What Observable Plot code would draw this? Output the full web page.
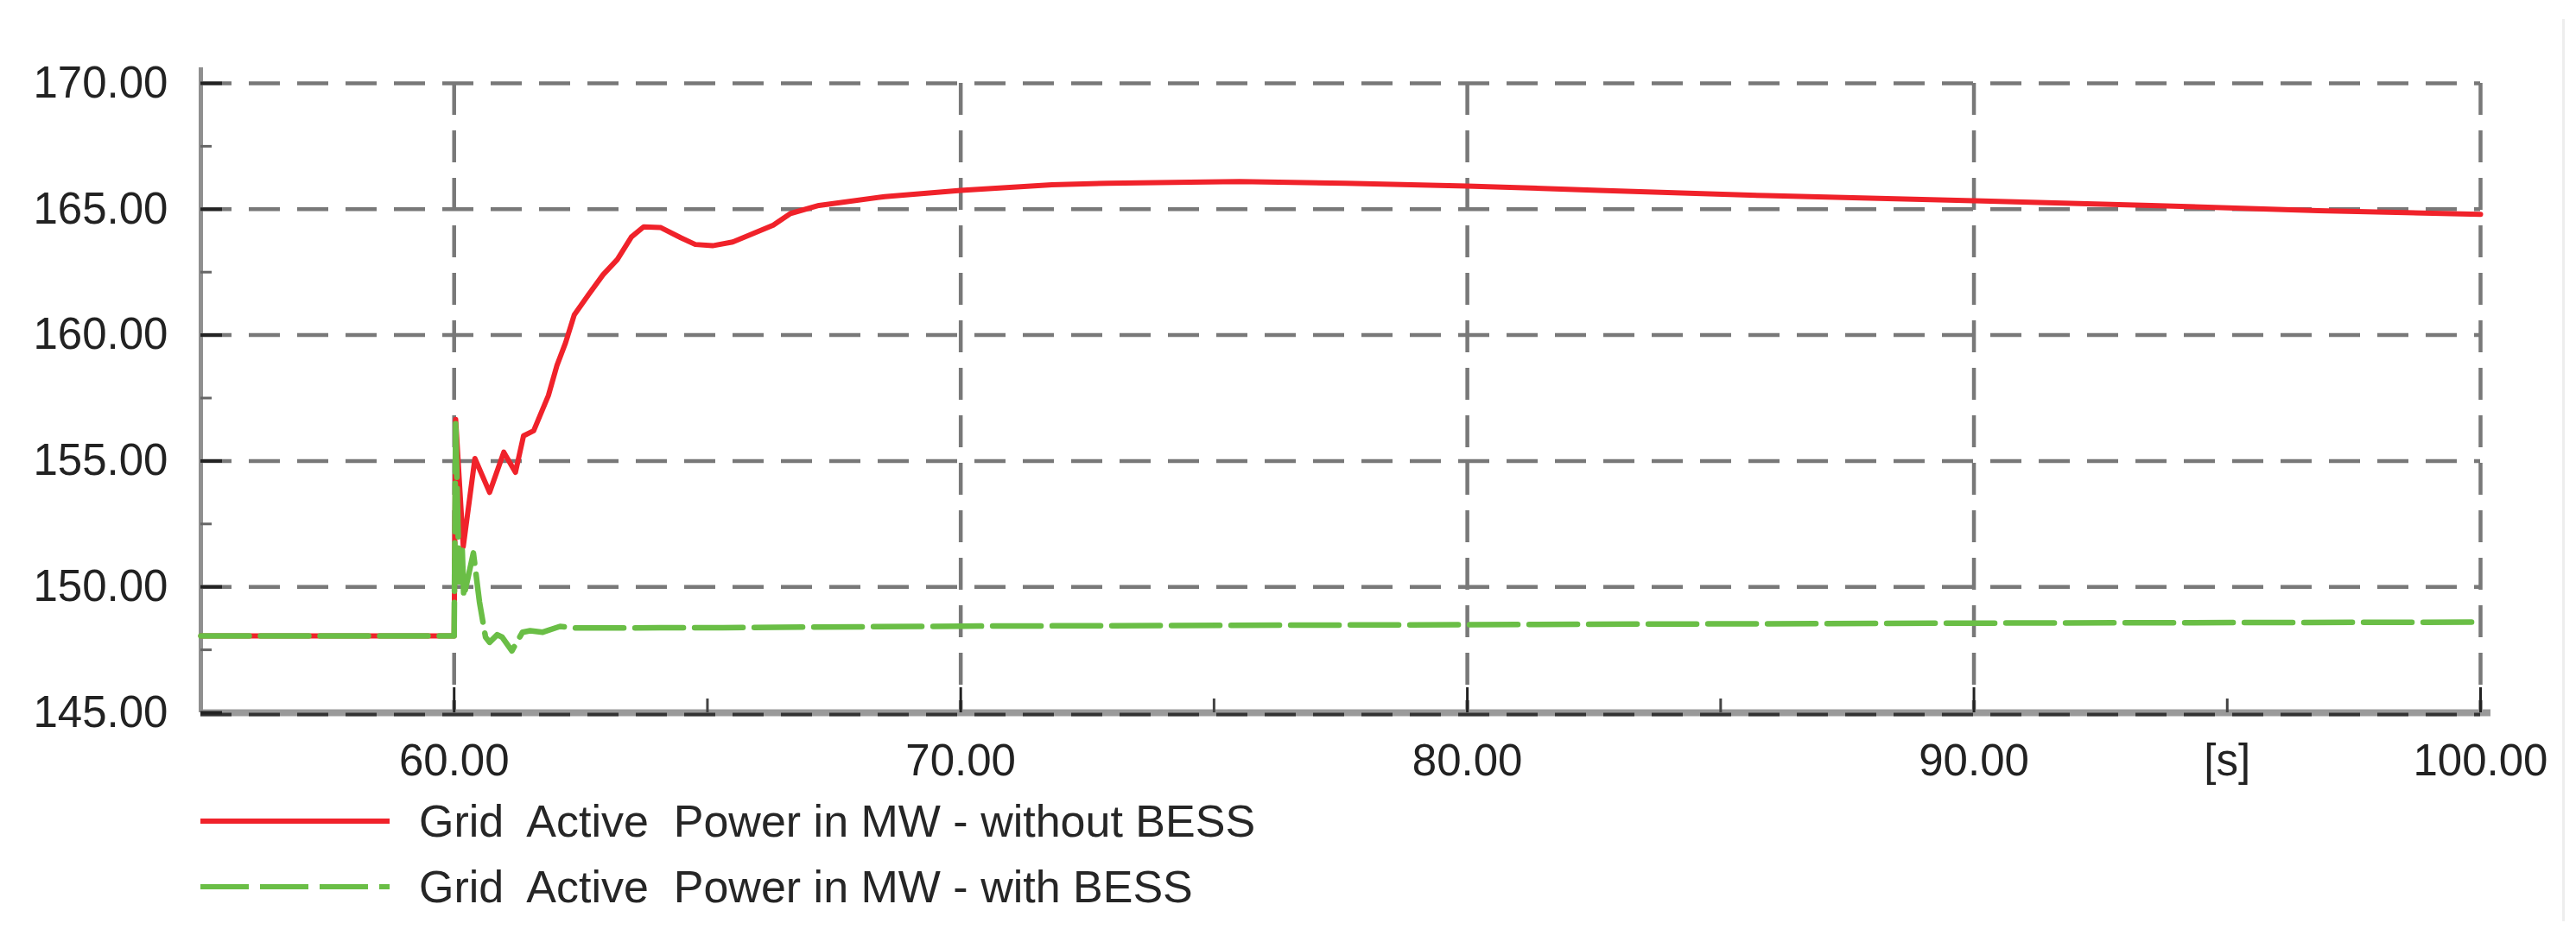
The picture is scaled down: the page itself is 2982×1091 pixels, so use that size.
<!DOCTYPE html>
<html>
<head>
<meta charset="utf-8">
<script src="https://cdn.jsdelivr.net/npm/d3@7"></script>
<script src="https://cdn.jsdelivr.net/npm/@observablehq/plot@0.6"></script>
<style>
  html, body { margin: 0; padding: 0; background: #fff; }
  #wrap { position: relative; width: 2982px; height: 1091px; overflow: hidden; font-family: "Liberation Sans", Arial, sans-serif; }
  #edge { position: absolute; left: 2966px; top: 22px; width: 3px; height: 1045px; background: #eeeeee; }
  #legend { position: absolute; left: 232px; top: 913px; }
  .row { display: flex; align-items: center; height: 76px; }
  .row svg { width: 220px; height: 20px; display: block; }
  .row span { margin-left: 33px; font-size: 52px; line-height: 1; color: #262626; white-space: pre; }
</style>
</head>
<body>
<div id="wrap"><div id="chart"></div><div id="legend"></div><div id="edge"></div></div>
<script>
// ---- data ----
const redT = [55, 60.0, 60.03, 60.18, 60.41, 60.7, 60.98, 61.21, 61.37, 61.57, 61.86, 62.03, 62.2, 62.37, 62.65, 62.94, 63.22, 63.5, 63.74, 64.08, 64.48, 64.76, 65.1, 65.5, 65.9, 66.3, 66.64, 67.2, 68.5, 70, 71.8, 72.9, 75.5, 77.6, 80, 82.6, 85.9, 90, 93.5, 96.8, 100];
const redV = [148.05, 148.05, 156.65, 151.6, 155.1, 153.75, 155.35, 154.55, 156.0, 156.2, 157.6, 158.8, 159.7, 160.8, 161.6, 162.4, 163.0, 163.9, 164.3, 164.27, 163.86, 163.6, 163.55, 163.7, 164.03, 164.37, 164.83, 165.15, 165.5, 165.75, 165.97, 166.03, 166.1, 166.03, 165.92, 165.75, 165.54, 165.34, 165.15, 164.94, 164.8];

const greenT = [55, 60.0, 60.03, 60.1, 60.16, 60.19, 60.38, 60.5, 60.62, 60.7, 60.85, 60.95, 61.14, 61.35, 61.5, 61.75, 62.09, 62.4, 63.0, 65.3, 70, 80, 90, 100];
const greenV = [148.05, 148.05, 156.6, 150.2, 151.45, 149.6, 151.35, 149.4, 148.0, 147.8, 148.1, 148.0, 147.46, 148.2, 148.26, 148.2, 148.43, 148.37, 148.37, 148.38, 148.44, 148.5, 148.56, 148.6];

const seriesNames = ["Grid  Active  Power in MW - without BESS", "Grid  Active  Power in MW - with BESS"];
const seriesColors = ["#f0222a", "#6abe46"];

const xTickValues = [60, 70, 80, 90, 95, 100];
const xTickLabels = ["60.00", "70.00", "80.00", "90.00", "[s]", "100.00"];
const xMajor = [60, 70, 80, 90, 100];
const xMinor = [65, 75, 85, 95];
const yTickValues = [145, 150, 155, 160, 165, 170];
const yTickLabels = ["145.00", "150.00", "155.00", "160.00", "165.00", "170.00"];
const yGrid = [150, 155, 160, 165, 170];
const yMinor = [147.5, 152.5, 157.5, 162.5, 167.5];

// ---- build ----
const red = redT.map((t, i) => ({t, v: redV[i]}));
const green = greenT.map((t, i) => ({t, v: greenV[i]}));

const chart = Plot.plot({
  width: 2982,
  height: 900,
  marginLeft: 232,
  marginRight: 111,
  marginTop: 96,
  marginBottom: 75,
  x: {domain: [55, 100], label: null},
  y: {domain: [145, 170], label: null},
  style: {fontFamily: "Liberation Sans, Arial, sans-serif", fontSize: "51px", color: "#222", background: "transparent", overflow: "visible"},
  marks: [
    Plot.ruleY(yGrid, {stroke: "#787878", strokeWidth: 4.5, strokeDasharray: "36,20"}),
    Plot.ruleX(xMajor, {stroke: "#787878", strokeWidth: 4.5, strokeDasharray: "37,18"}),
    Plot.ruleY([145], {stroke: "#9a9a9a", strokeWidth: 8, insetRight: -12}),
    Plot.ruleY([145], {stroke: "#333", strokeWidth: 4, strokeDasharray: "36,20", dy: 2}),
    Plot.ruleX([55], {stroke: "#8f8f8f", strokeWidth: 5, insetTop: -18}),
    Plot.axisY({ticks: yTickValues, tickSize: 25, dx: 25, tickFormat: () => "", stroke: "#222", strokeWidth: 4, label: null}),
    Plot.axisY({ticks: yMinor, tickSize: 13, dx: 13, tickFormat: () => "", stroke: "#666", strokeWidth: 3, label: null}),
    Plot.axisX({ticks: xMajor, tickSize: 29, dy: -29, tickFormat: () => "", stroke: "#222", strokeWidth: 3, label: null}),
    Plot.axisX({ticks: xMinor, tickSize: 16, dy: -16, tickFormat: () => "", stroke: "#444", strokeWidth: 3, label: null}),
    Plot.axisY({ticks: yTickValues, tickSize: 0, tickPadding: 38, tickFormat: d => yTickLabels[yTickValues.indexOf(d)], label: null}),
    Plot.axisX({ticks: xTickValues, tickSize: 0, tickPadding: 36, tickFormat: d => xTickLabels[xTickValues.indexOf(d)], label: null}),
    Plot.line(red, {x: "t", y: "v", stroke: seriesColors[0], strokeWidth: 6, strokeLinejoin: "round"}),
    Plot.line(green, {x: "t", y: "v", stroke: seriesColors[1], strokeWidth: 6.5, strokeDasharray: "56,13"})
  ]
});
document.getElementById("chart").appendChild(chart);

// ---- legend ----
const legend = document.getElementById("legend");
seriesNames.forEach((name, i) => {
  const row = document.createElement("div");
  row.className = "row";
  const dash = i === 1 ? ' stroke-dasharray="56,13"' : '';
  row.innerHTML = `<svg viewBox="0 0 220 20"><line x1="0" y1="10" x2="219" y2="10" stroke="${seriesColors[i]}" stroke-width="6"${dash}/></svg><span>${name}</span>`;
  legend.appendChild(row);
});
</script>
</body>
</html>
